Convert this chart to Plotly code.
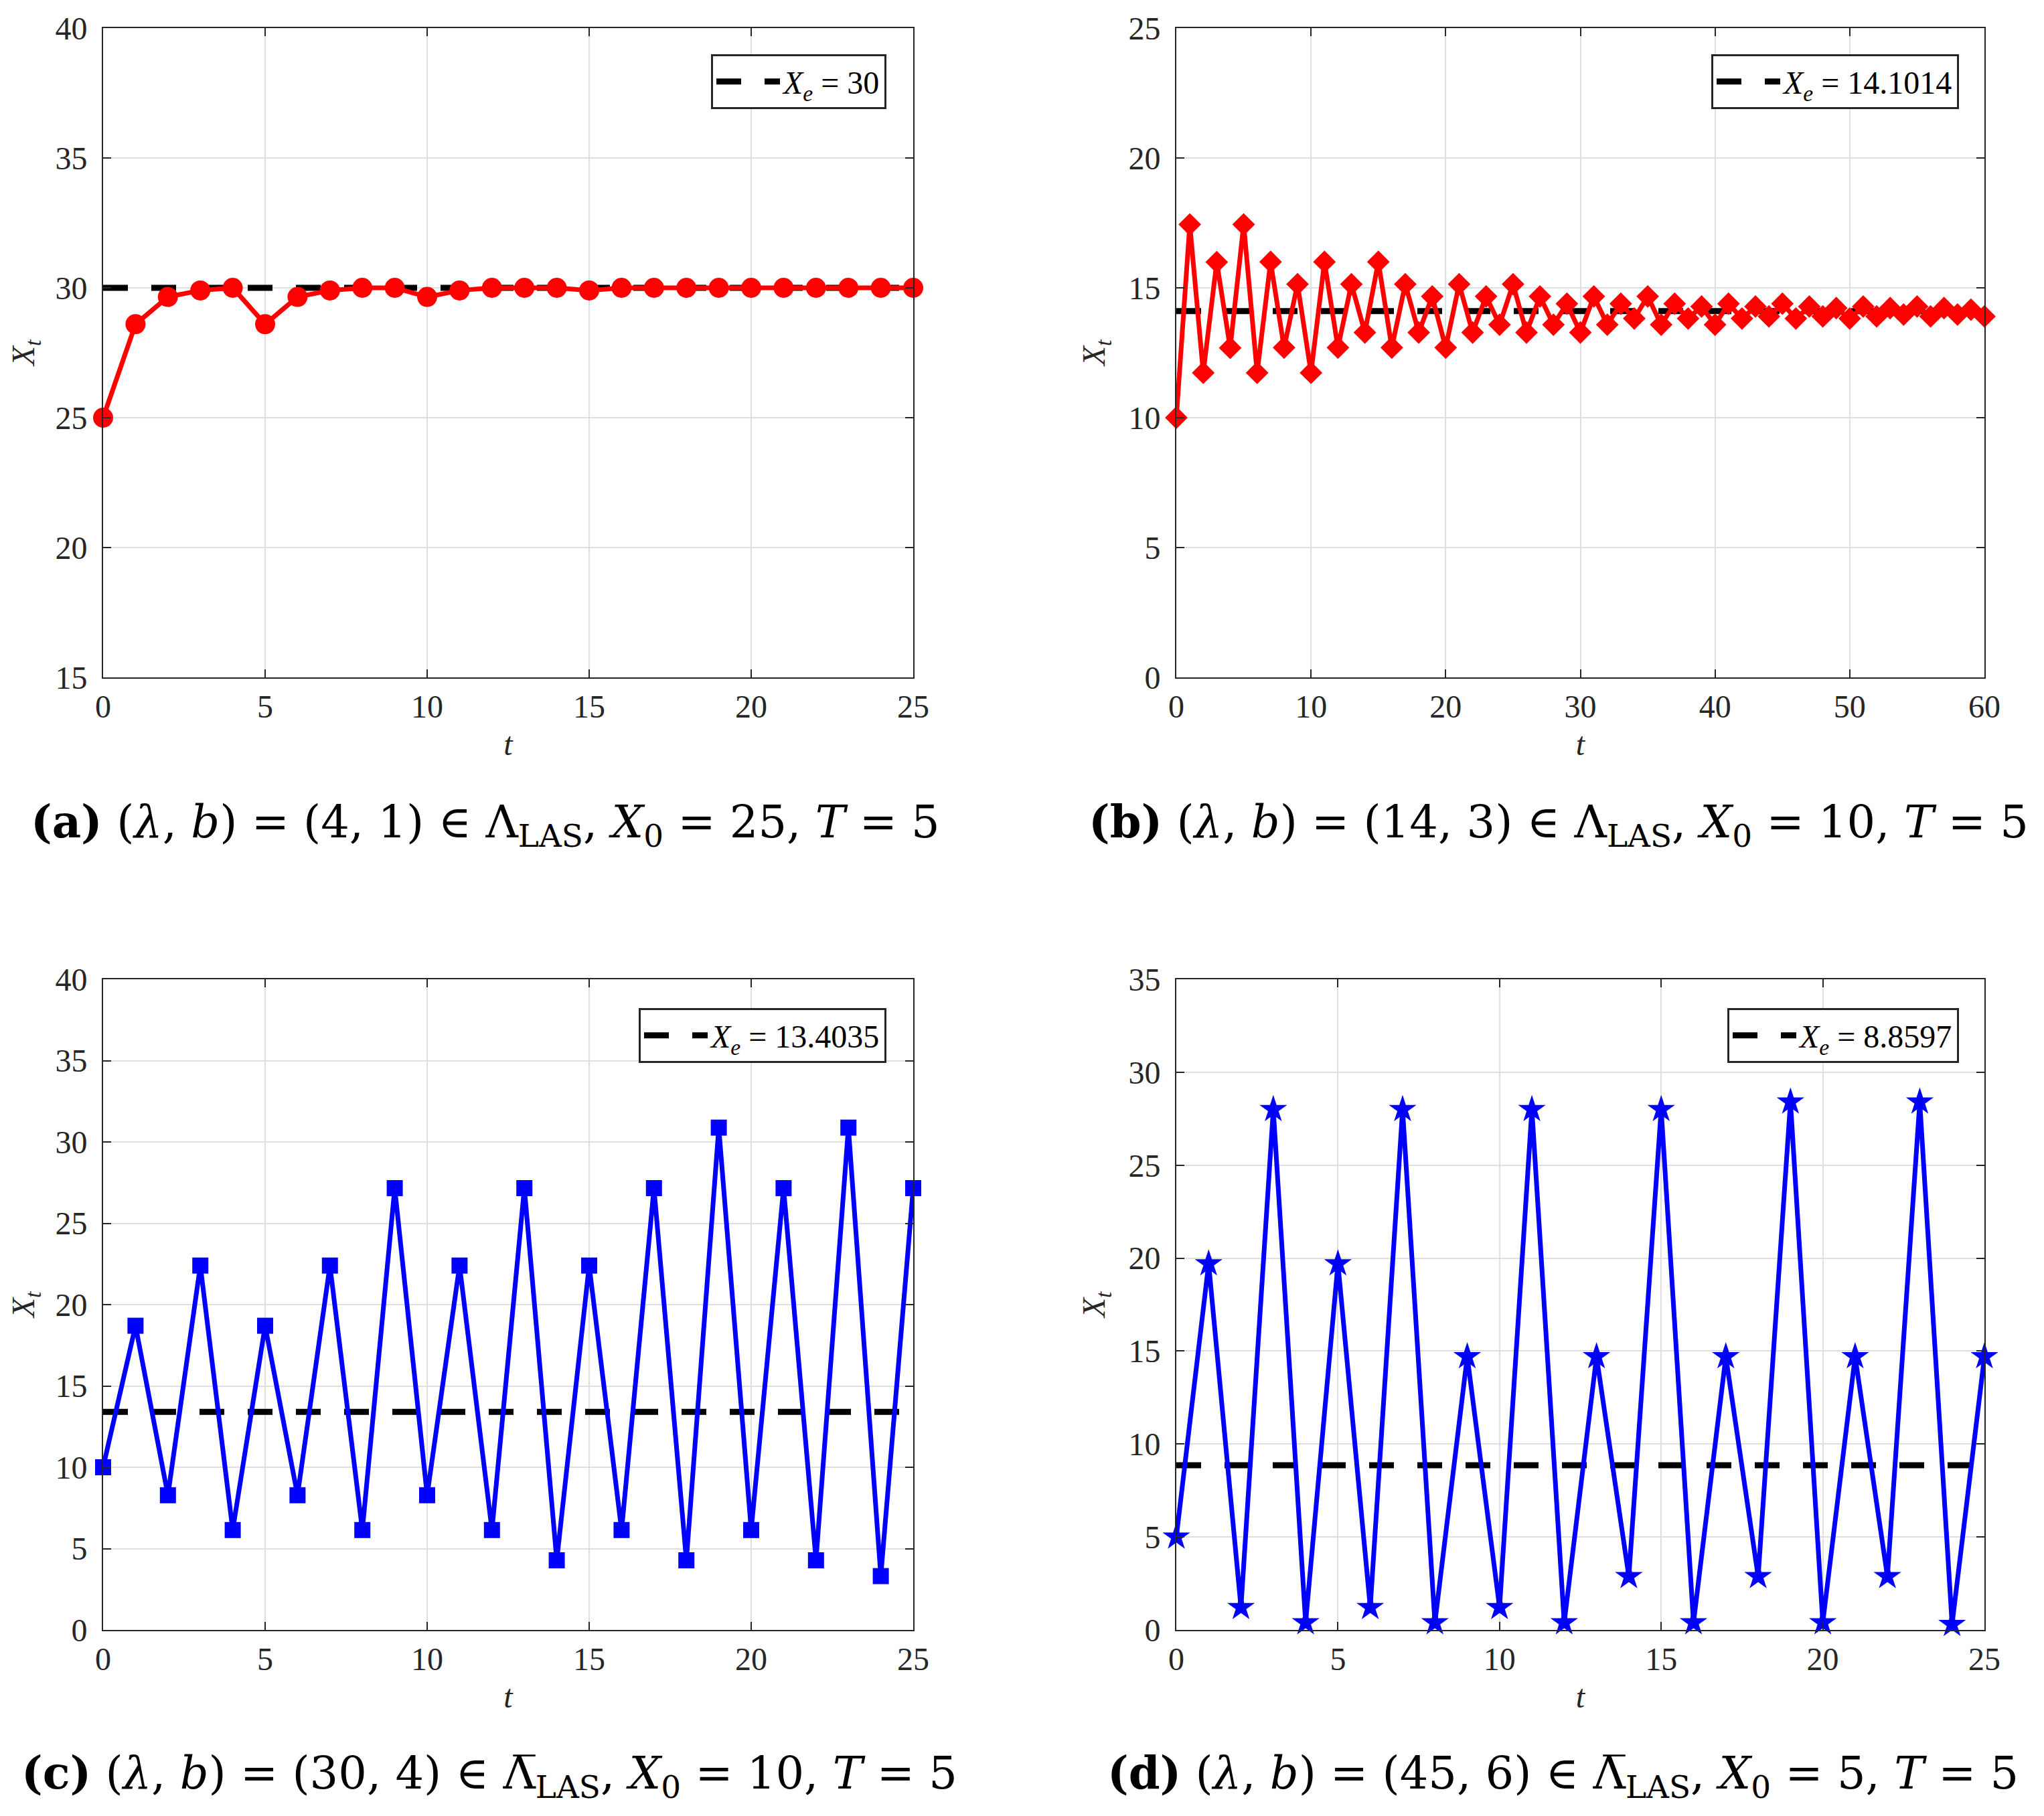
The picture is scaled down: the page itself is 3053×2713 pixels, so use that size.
import plotly.graph_objects as go

# ---------------- data ----------------
t_a = list(range(0, 26))
x_a = [25, 28.6, 29.65, 29.9, 30.0, 28.6, 29.65, 29.9, 30.0, 30.0, 29.65, 29.9, 30.0,
       30.0, 30.0, 29.9, 30.0, 30.0, 30.0, 30.0, 30.0, 30.0, 30.0, 30.0, 30.0, 30.0]
xe_a = 30

t_b = list(range(0, 61))
x_b = [10.0, 17.44, 11.73, 15.99, 12.69, 17.44, 11.73, 16.0, 12.7, 15.14,
       11.73, 16.0, 12.7, 15.14, 13.28, 16.0, 12.7, 15.14, 13.28, 14.67,
       12.7, 15.14, 13.28, 14.67, 13.58, 15.14, 13.28, 14.67, 13.58, 14.39,
       13.28, 14.67, 13.58, 14.39, 13.82, 14.67, 13.58, 14.39, 13.82, 14.28,
       13.58, 14.39, 13.82, 14.28, 13.9, 14.39, 13.82, 14.28, 13.9, 14.22,
       13.82, 14.28, 13.9, 14.22, 13.97, 14.28, 13.9, 14.22, 13.97, 14.16, 13.9]
xe_b = 14.1014

t_c = list(range(0, 26))
x_c = [10.0, 18.7, 8.28, 22.4, 6.14, 18.7, 8.28, 22.4, 6.14, 27.16,
       8.28, 22.4, 6.14, 27.16, 4.28, 22.4, 6.14, 27.16, 4.28, 30.88,
       6.14, 27.16, 4.28, 30.88, 3.31, 27.16]
xe_c = 13.4035

t_d = list(range(0, 26))
x_d = [5.0, 19.7, 1.21, 28.0, 0.39, 19.7, 1.21, 28.0, 0.39, 14.7,
       1.21, 28.0, 0.39, 14.7, 2.87, 28.0, 0.39, 14.7, 2.87, 28.4,
       0.39, 14.7, 2.87, 28.4, 0.3, 14.7]
xe_d = 8.8597

captions = [
    "<b>(a)</b> (<i>λ</i>, <i>b</i>) = (4, 1) ∈ Λ<sub>LAS</sub>, <i>X</i><sub>0</sub> = 25, <i>T</i> = 5",
    "<b>(b)</b> (<i>λ</i>, <i>b</i>) = (14, 3) ∈ Λ<sub>LAS</sub>, <i>X</i><sub>0</sub> = 10, <i>T</i> = 5",
    "<b>(c)</b> (<i>λ</i>, <i>b</i>) = (30, 4) ∈ Λ\u0305<sub>LAS</sub>, <i>X</i><sub>0</sub> = 10, <i>T</i> = 5",
    "<b>(d)</b> (<i>λ</i>, <i>b</i>) = (45, 6) ∈ Λ\u0305<sub>LAS</sub>, <i>X</i><sub>0</sub> = 5, <i>T</i> = 5",
]

panels = [
    dict(t=t_a, x=x_a, xe=xe_a, color="#FF0000", symbol="circle", msize=30,
         xr=[0, 25], xdt=5, yr=[15, 40], ydt=5),
    dict(t=t_b, x=x_b, xe=xe_b, color="#FF0000", symbol="diamond", msize=26,
         xr=[0, 60], xdt=10, yr=[0, 25], ydt=5),
    dict(t=t_c, x=x_c, xe=xe_c, color="#0000FF", symbol="square", msize=24,
         xr=[0, 25], xdt=5, yr=[0, 40], ydt=5),
    dict(t=t_d, x=x_d, xe=xe_d, color="#0000FF", symbol="star", msize=31,
         xr=[0, 25], xdt=5, yr=[0, 35], ydt=5),
]

W, H = 3053, 2713
OFF = 8  # page body margin


def px(v):
    return (v - OFF) / W


def py(v):
    return 1 - (v - OFF) / H


xdoms = [[px(154), px(1364)], [px(1757), px(2964)]]
ydoms = [[py(1012), py(42)], [py(2435), py(1463)]]
leg_x = [px(1324), px(2926)]
leg_y = [py(81), py(1506)]
cap_x = [px(725), px(2328)]
cap_y = [py(1232), py(2653)]

FONT = "Liberation Serif"
AXC = "#262626"
TF = 48

fig = go.Figure()
layout = dict(
    width=W, height=H,
    margin=dict(l=0, r=0, t=0, b=0, autoexpand=False),
    paper_bgcolor="white", plot_bgcolor="white",
    font=dict(family=FONT, size=TF, color=AXC),
    showlegend=True,
    annotations=[],
)

for i, p in enumerate(panels):
    k = "" if i == 0 else str(i + 1)
    col = i % 2
    row = i // 2
    xa = "x" + k
    ya = "y" + k
    lg = "legend" + k
    xe_vals = [p["xe"]] * len(p["t"])
    # equilibrium dashed line
    fig.add_trace(go.Scatter(
        x=p["t"], y=xe_vals, mode="lines",
        line=dict(color="black", width=9, dash="37px,35px"),
        name="<i>X</i><sub><i>e</i></sub> = " + f"{p['xe']:g}",
        xaxis=xa, yaxis=ya, legend=lg, showlegend=True,
    ))
    # trajectory
    fig.add_trace(go.Scatter(
        x=p["t"], y=p["x"], mode="lines+markers",
        line=dict(color=p["color"], width=7),
        marker=dict(symbol=p["symbol"], size=p["msize"], color=p["color"],
                    line=dict(width=0)),
        xaxis=xa, yaxis=ya, showlegend=False, cliponaxis=False,
    ))
    axis_common = dict(
        showline=True, linecolor=AXC, linewidth=2, mirror="allticks",
        ticks="inside", ticklen=12, tickwidth=2, tickcolor=AXC,
        showgrid=True, gridcolor="#DFDFDF", gridwidth=2, automargin=False,
        zeroline=False, tickfont=dict(family=FONT, size=TF, color=AXC),
    )
    layout["xaxis" + k] = dict(
        axis_common, domain=xdoms[col], range=p["xr"], dtick=p["xdt"], tick0=0,
        anchor=ya, ticklabelstandoff=0,
        title=dict(text="<i>t</i>", font=dict(family=FONT, size=TF, color=AXC), standoff=14),
    )
    layout["yaxis" + k] = dict(
        axis_common, domain=ydoms[row], range=p["yr"], dtick=p["ydt"], tick0=0,
        anchor=xa, ticklabelstandoff=12,
        title=dict(text="<i>X</i><sub><i>t</i></sub>", font=dict(family=FONT, size=TF, color=AXC), standoff=20),
    )
    layout[lg] = dict(
        x=leg_x[col], y=leg_y[row], xanchor="right", yanchor="top",
        xref="paper", yref="paper",
        bgcolor="white", bordercolor=AXC, borderwidth=3, itemwidth=95,
        font=dict(family=FONT, size=48, color="black"),
    )
    layout["annotations"].append(dict(
        text=captions[i], x=cap_x[col] + (0.002 if row == 1 else 0), y=cap_y[row],
        xref="paper", yref="paper",
        xanchor="center", yanchor="middle", showarrow=False,
        font=dict(family="DejaVu Serif", size=67, color="black"),
    ))

fig.update_layout(**layout)
fig.write_html("out.html")
